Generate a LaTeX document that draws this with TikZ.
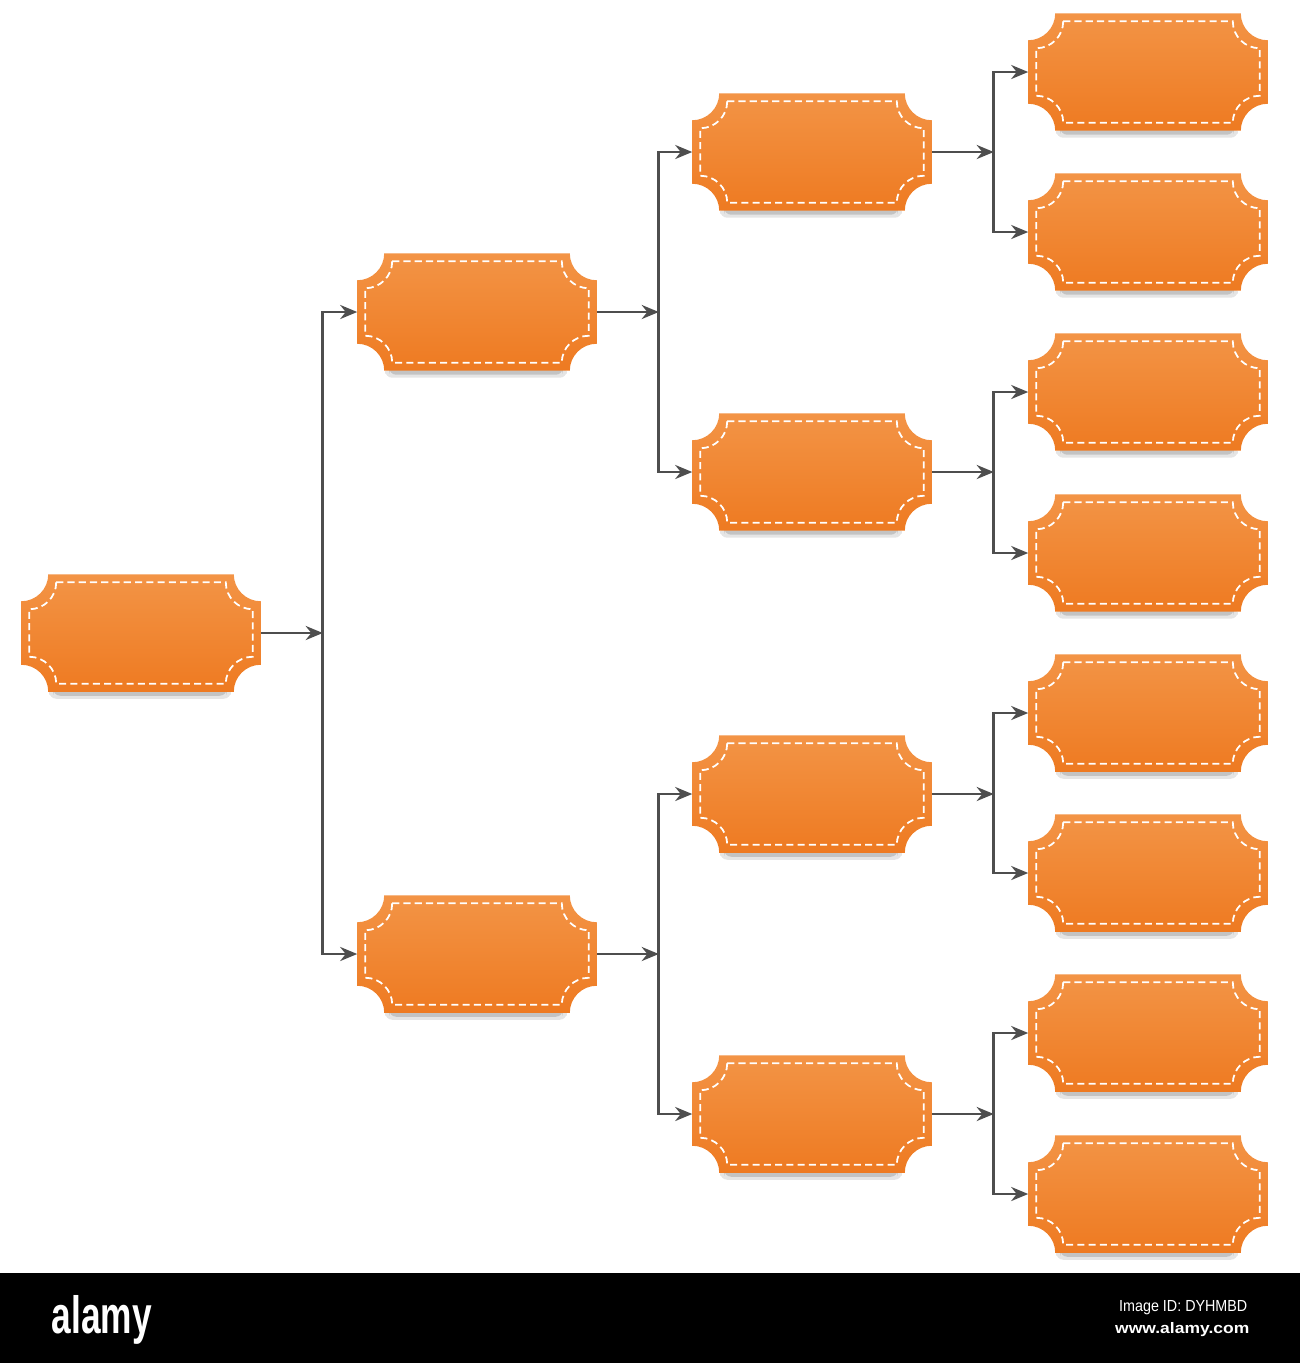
\documentclass[tikz,border=0pt]{standalone}
\usepackage{fontspec}
\setsansfont{Liberation Sans}
\usetikzlibrary{positioning,arrows.meta,calc}
\definecolor{plaquetop}{RGB}{243,148,70}
\definecolor{plaquebot}{RGB}{238,122,33}
\definecolor{linkgray}{RGB}{78,78,78}
% outline of a plaque with concave corners: node, notch radius, inset
\newcommand{\plaquepath}[3]{($(#1.north west)+(#3+#2,-#3)$) -- ($(#1.north east)+(-#3-#2,-#3)$) arc[start angle=180,end angle=270,radius=#2] -- ($(#1.south east)+(-#3,#3+#2)$) arc[start angle=90,end angle=180,radius=#2] -- ($(#1.south west)+(#3+#2,#3)$) arc[start angle=0,end angle=90,radius=#2] -- ($(#1.north west)+(#3,-#3-#2)$) arc[start angle=270,end angle=360,radius=#2] -- cycle}

\begin{document}
\begin{tikzpicture}[x=0.01cm, y=0.01cm, font=\sffamily,
  plaque/.style={minimum width=2.38cm, minimum height=1.16cm, inner sep=0pt},
  link/.style={draw=linkgray, line width=0.8pt},
  linkarrow/.style={link, -{Stealth[length=1.7mm, width=1.4mm]}}]
\useasboundingbox (0,0) rectangle (1300,-1363);
% tree nodes
\node[plaque] (root) at (141,-633) {};
\foreach \y/\name in {-312/a,-954/b}{\node[plaque] (\name) at (477,\y) {};}
\foreach \y/\name in {-152/a1,-472/a2,-794/b1,-1114/b2}{\node[plaque] (\name) at (812,\y) {};}
\foreach \y/\name in {-72/a11,-232/a12,-392/a21,-553/a22,-713/b11,-873/b12,-1033/b21,-1194/b22}{\node[plaque] (\name) at (1148,\y) {};}
% plaques
\foreach \n in {root,a,b,a1,a2,b1,b2,a11,a12,a21,a22,b11,b12,b21,b22}{
  \fill[black, opacity=0.10, rounded corners=2] ($(\n.south west)+(28,4)$) rectangle ($(\n.south east)+(-30,-7)$);
  \fill[black, opacity=0.15, rounded corners=2] ($(\n.south west)+(32,4)$) rectangle ($(\n.south east)+(-34,-4)$);
  \shade[top color=plaquetop, bottom color=plaquebot] \plaquepath{\n}{27}{0};
  \draw[white, line width=0.5pt, dash pattern=on 2pt off 1.2pt] \plaquepath{\n}{27}{8};
}
% connectors
\foreach \p/\u/\l in {root/a/b, a/a1/a2, b/b1/b2, a1/a11/a12, a2/a21/a22, b1/b11/b12, b2/b21/b22}{
  \coordinate (\p-j) at ($(\p.east)+(62,0)$);
  \draw[linkarrow] (\p.east) -- (\p-j);
  \draw[linkarrow] (\p-j) |- (\u.west);
  \draw[linkarrow] (\p-j) |- (\l.west);
}
% bottom bar
\fill[black] (0,-1273) rectangle (1300,-1363);
\node[anchor=base west, inner sep=0pt, white] (logo) at (51,-1333) {\resizebox{1.00cm}{0.38cm}{\bfseries alamy}};
\node[anchor=base east, inner sep=0pt, white] (imgid) at (1248,-1311) {\resizebox{1.28cm}{0.11cm}{Image ID: DYHMBD}};
\node[anchor=base east, inner sep=0pt, white] (site) at (1250,-1333) {\resizebox{1.34cm}{0.11cm}{\bfseries www.alamy.com}};
\end{tikzpicture}
\end{document}
